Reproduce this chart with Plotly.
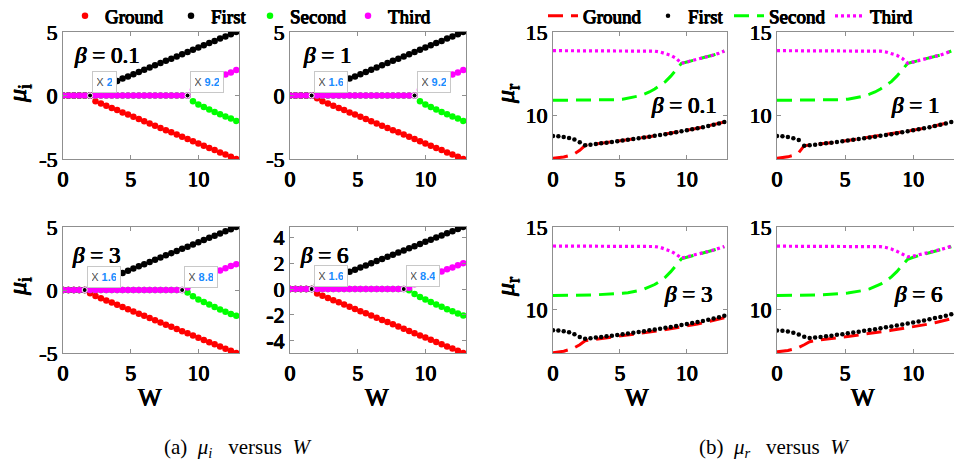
import plotly.graph_objects as go

# ---------------- data ----------------
W = [0.0, 0.4, 0.8, 1.2, 1.6, 2.0, 2.4, 2.8, 3.2, 3.6, 4.0, 4.4, 4.8, 5.2, 5.6, 6.0, 6.4,
     6.8, 7.2, 7.6, 8.0, 8.4, 8.8, 9.2, 9.6, 10.0, 10.4, 10.8, 11.2, 11.6, 12.0, 12.4, 12.8]

series_names = ["Ground", "First", "Second", "Third"]

# imaginary parts mu_i
mi_ground_b01 = [0, 0, 0, 0, 0, 0, -0.45, -0.63, -0.80, -0.98, -1.15, -1.33, -1.50, -1.68, -1.85, -2.03, -2.20,
                 -2.38, -2.55, -2.73, -2.90, -3.08, -3.25, -3.43, -3.60, -3.78, -3.95, -4.13, -4.30, -4.48, -4.65, -4.83, -5.00]
mi_first_b01 = [0, 0, 0, 0, 0, 0, 0.45, 0.63, 0.80, 0.98, 1.15, 1.33, 1.50, 1.68, 1.85, 2.03, 2.20,
                2.38, 2.55, 2.73, 2.90, 3.08, 3.25, 3.43, 3.60, 3.78, 3.95, 4.13, 4.30, 4.48, 4.65, 4.83, 5.00]
mi_second_b01 = [0, 0, 0, 0, 0, 0, 0, 0, 0, 0, 0, 0, 0, 0, 0, 0, 0,
                 0, 0, 0, 0, 0, 0, 0, -0.45, -0.70, -0.90, -1.10, -1.30, -1.48, -1.65, -1.82, -2.00]
mi_third_b01 = [0, 0, 0, 0, 0, 0, 0, 0, 0, 0, 0, 0, 0, 0, 0, 0, 0,
                0, 0, 0, 0, 0, 0, 0, 0.45, 0.70, 0.90, 1.10, 1.30, 1.48, 1.65, 1.82, 2.00]

mi_ground_b1 = [0, 0, 0, 0, 0, -0.22, -0.45, -0.63, -0.80, -0.98, -1.15, -1.33, -1.50, -1.68, -1.85, -2.03, -2.20,
                -2.38, -2.55, -2.73, -2.90, -3.08, -3.25, -3.43, -3.60, -3.78, -3.95, -4.13, -4.30, -4.48, -4.65, -4.83, -5.00]
mi_first_b1 = [0, 0, 0, 0, 0, 0.22, 0.45, 0.63, 0.80, 0.98, 1.15, 1.33, 1.50, 1.68, 1.85, 2.03, 2.20,
               2.38, 2.55, 2.73, 2.90, 3.08, 3.25, 3.43, 3.60, 3.78, 3.95, 4.13, 4.30, 4.48, 4.65, 4.83, 5.00]
mi_second_b1 = [0, 0, 0, 0, 0, 0, 0, 0, 0, 0, 0, 0, 0, 0, 0, 0, 0,
                0, 0, 0, 0, 0, 0, 0, -0.45, -0.70, -0.90, -1.10, -1.30, -1.48, -1.65, -1.82, -2.00]
mi_third_b1 = [0, 0, 0, 0, 0, 0, 0, 0, 0, 0, 0, 0, 0, 0, 0, 0, 0,
               0, 0, 0, 0, 0, 0, 0, 0.45, 0.70, 0.90, 1.10, 1.30, 1.48, 1.65, 1.82, 2.00]

mi_ground_b3 = [0, 0, 0, 0, 0, -0.25, -0.48, -0.66, -0.83, -1.00, -1.18, -1.35, -1.53, -1.70, -1.88, -2.05, -2.22,
                -2.40, -2.57, -2.75, -2.92, -3.10, -3.27, -3.44, -3.62, -3.79, -3.97, -4.14, -4.31, -4.49, -4.66, -4.83, -5.00]
mi_first_b3 = [0, 0, 0, 0, 0, 0.25, 0.48, 0.66, 0.83, 1.00, 1.18, 1.35, 1.53, 1.70, 1.88, 2.05, 2.22,
               2.40, 2.57, 2.75, 2.92, 3.10, 3.27, 3.44, 3.62, 3.79, 3.97, 4.14, 4.31, 4.49, 4.66, 4.83, 5.00]
mi_second_b3 = [0, 0, 0, 0, 0, 0, 0, 0, 0, 0, 0, 0, 0, 0, 0, 0, 0,
                0, 0, 0, 0, 0, 0, -0.20, -0.50, -0.75, -0.95, -1.15, -1.35, -1.55, -1.72, -1.90, -2.05]
mi_third_b3 = [0, 0, 0, 0, 0, 0, 0, 0, 0, 0, 0, 0, 0, 0, 0, 0, 0,
               0, 0, 0, 0, 0, 0, 0.20, 0.50, 0.75, 0.95, 1.15, 1.35, 1.55, 1.72, 1.90, 2.05]

mi_ground_b6 = [0, 0, 0, 0, 0, -0.35, -0.52, -0.69, -0.86, -1.03, -1.20, -1.37, -1.54, -1.71, -1.88, -2.05, -2.22,
                -2.39, -2.56, -2.73, -2.90, -3.08, -3.25, -3.42, -3.59, -3.76, -3.93, -4.10, -4.27, -4.44, -4.61, -4.78, -4.95]
mi_first_b6 = [0, 0, 0, 0, 0, 0.35, 0.51, 0.68, 0.84, 1.01, 1.17, 1.34, 1.50, 1.67, 1.83, 2.00, 2.16,
               2.33, 2.49, 2.66, 2.82, 2.99, 3.15, 3.32, 3.48, 3.65, 3.81, 3.98, 4.14, 4.31, 4.47, 4.64, 4.80]
mi_second_b6 = [0, 0, 0, 0, 0, 0, 0, 0, 0, 0, 0, 0, 0, 0, 0, 0, 0,
                0, 0, 0, 0, 0, -0.10, -0.38, -0.62, -0.81, -1.00, -1.19, -1.38, -1.57, -1.72, -1.89, -2.05]
mi_third_b6 = [0, 0, 0, 0, 0, 0, 0, 0, 0, 0, 0, 0, 0, 0, 0, 0, 0,
               0, 0, 0, 0, 0, 0.10, 0.37, 0.60, 0.79, 0.98, 1.16, 1.35, 1.53, 1.67, 1.84, 2.00]

# real parts mu_r
mr_ground_b01 = [7.42, 7.45, 7.50, 7.58, 7.70, 7.90, 8.20, 8.24, 8.28, 8.32, 8.36, 8.40, 8.44, 8.49, 8.53, 8.58, 8.62,
                 8.67, 8.72, 8.77, 8.82, 8.87, 8.92, 8.98, 9.04, 9.10, 9.16, 9.22, 9.29, 9.36, 9.43, 9.51, 9.60]
mr_first_b01 = [8.76, 8.74, 8.70, 8.64, 8.55, 8.38, 8.20, 8.24, 8.28, 8.32, 8.36, 8.40, 8.44, 8.49, 8.53, 8.58, 8.62,
                8.67, 8.72, 8.77, 8.82, 8.87, 8.92, 8.98, 9.04, 9.10, 9.16, 9.22, 9.29, 9.36, 9.43, 9.51, 9.60]
mr_second_b01 = [10.90, 10.90, 10.90, 10.90, 10.90, 10.90, 10.90, 10.90, 10.90, 10.90, 10.90, 10.92, 10.94, 10.97, 11.02, 11.08, 11.16,
                 11.27, 11.40, 11.58, 11.78, 12.02, 12.35, 12.75, 13.12, 13.20, 13.28, 13.36, 13.44, 13.53, 13.62, 13.73, 13.86]
mr_third_b01 = [13.88, 13.88, 13.88, 13.88, 13.88, 13.88, 13.88, 13.88, 13.88, 13.88, 13.88, 13.88, 13.88, 13.88, 13.88, 13.88, 13.88,
                13.88, 13.87, 13.85, 13.80, 13.72, 13.60, 13.42, 13.12, 13.20, 13.28, 13.36, 13.44, 13.53, 13.62, 13.73, 13.86]

mr_ground_b1 = [7.42, 7.45, 7.51, 7.60, 7.76, 8.18, 8.21, 8.24, 8.28, 8.32, 8.36, 8.40, 8.44, 8.49, 8.53, 8.58, 8.62,
                8.67, 8.72, 8.77, 8.82, 8.87, 8.92, 8.98, 9.04, 9.10, 9.16, 9.22, 9.29, 9.36, 9.43, 9.51, 9.60]
mr_first_b1 = [8.76, 8.74, 8.70, 8.63, 8.52, 8.18, 8.21, 8.24, 8.28, 8.32, 8.36, 8.40, 8.44, 8.49, 8.53, 8.58, 8.62,
               8.67, 8.72, 8.77, 8.82, 8.87, 8.92, 8.98, 9.04, 9.10, 9.16, 9.22, 9.29, 9.36, 9.43, 9.51, 9.60]
mr_second_b1 = [10.90, 10.90, 10.90, 10.90, 10.90, 10.90, 10.90, 10.90, 10.90, 10.90, 10.90, 10.92, 10.94, 10.97, 11.02, 11.08, 11.16,
                11.27, 11.40, 11.58, 11.78, 12.02, 12.35, 12.75, 13.12, 13.20, 13.28, 13.36, 13.44, 13.53, 13.62, 13.73, 13.86]
mr_third_b1 = [13.88, 13.88, 13.88, 13.88, 13.88, 13.88, 13.88, 13.88, 13.88, 13.88, 13.88, 13.88, 13.88, 13.88, 13.88, 13.88, 13.88,
               13.88, 13.87, 13.85, 13.80, 13.72, 13.60, 13.42, 13.12, 13.20, 13.28, 13.36, 13.44, 13.53, 13.62, 13.73, 13.86]

mr_ground_b3 = [7.40, 7.43, 7.49, 7.58, 7.70, 7.88, 8.12, 8.17, 8.21, 8.25, 8.29, 8.33, 8.37, 8.41, 8.46, 8.50, 8.55,
                8.59, 8.64, 8.69, 8.74, 8.79, 8.84, 8.89, 8.95, 9.01, 9.07, 9.13, 9.20, 9.27, 9.34, 9.42, 9.51]
mr_first_b3 = [8.76, 8.74, 8.70, 8.63, 8.52, 8.35, 8.24, 8.27, 8.31, 8.35, 8.39, 8.43, 8.47, 8.52, 8.56, 8.61, 8.65,
               8.70, 8.75, 8.80, 8.85, 8.90, 8.95, 9.01, 9.07, 9.13, 9.19, 9.25, 9.32, 9.39, 9.46, 9.54, 9.63]
mr_second_b3 = [10.85, 10.85, 10.85, 10.85, 10.86, 10.87, 10.88, 10.89, 10.90, 10.91, 10.92, 10.94, 10.96, 10.99, 11.03, 11.08, 11.15,
                11.24, 11.36, 11.52, 11.72, 11.97, 12.30, 12.70, 13.08, 13.17, 13.25, 13.33, 13.41, 13.50, 13.59, 13.69, 13.80]
mr_third_b3 = [13.85, 13.85, 13.85, 13.85, 13.85, 13.85, 13.85, 13.85, 13.85, 13.85, 13.85, 13.85, 13.85, 13.85, 13.85, 13.85, 13.85,
               13.85, 13.84, 13.82, 13.77, 13.68, 13.54, 13.35, 13.12, 13.20, 13.27, 13.35, 13.43, 13.52, 13.61, 13.71, 13.82]

mr_ground_b6 = [7.45, 7.48, 7.53, 7.61, 7.72, 7.88, 8.06, 8.13, 8.18, 8.22, 8.26, 8.30, 8.34, 8.38, 8.42, 8.46, 8.51,
                8.55, 8.60, 8.65, 8.70, 8.75, 8.80, 8.85, 8.90, 8.96, 9.02, 9.08, 9.14, 9.21, 9.28, 9.36, 9.45]
mr_first_b6 = [8.74, 8.72, 8.68, 8.61, 8.50, 8.36, 8.28, 8.31, 8.35, 8.39, 8.43, 8.48, 8.52, 8.57, 8.62, 8.67, 8.72,
               8.77, 8.82, 8.87, 8.93, 8.98, 9.04, 9.10, 9.16, 9.22, 9.28, 9.35, 9.42, 9.49, 9.56, 9.64, 9.72]
mr_second_b6 = [10.85, 10.85, 10.85, 10.85, 10.86, 10.87, 10.88, 10.89, 10.90, 10.91, 10.93, 10.95, 10.98, 11.01, 11.05, 11.10, 11.17,
                11.26, 11.38, 11.54, 11.74, 11.98, 12.30, 12.68, 13.05, 13.17, 13.26, 13.34, 13.42, 13.51, 13.60, 13.70, 13.81]
mr_third_b6 = [13.84, 13.84, 13.84, 13.84, 13.84, 13.84, 13.84, 13.84, 13.84, 13.84, 13.84, 13.84, 13.84, 13.84, 13.84, 13.84, 13.84,
               13.84, 13.83, 13.81, 13.76, 13.67, 13.53, 13.36, 13.20, 13.24, 13.31, 13.38, 13.46, 13.54, 13.63, 13.73, 13.84]

# data tips (W position of the marked point, value 0)
tips_b01 = [2.0, 9.2]
tips_b1 = [1.6, 9.2]
tips_b3 = [1.6, 8.8]
tips_b6 = [1.6, 8.4]

yticks_a = [-5, 0, 5]
yticks_a6 = [-4, -2, 0, 2, 4]
yticks_b = [10, 15]
xticks = [0, 5, 10]

# ---------------- layout helpers ----------------
FW, FH = 954, 463
def px(x):
    return x / FW
def py(y):
    return 1 - y / FH

SERIF = "Liberation Serif"
# faux-bold (the bold face of the serif font is not available)
BOLD = "0.45px 0 0 #000, -0.45px 0 0 #000, 0 0.35px 0 #000, 0 -0.2px 0 #000"
def bfont(size):
    return dict(family=SERIF, size=size, color="black", shadow=BOLD)

COL = {"Ground": "#ff0000", "First": "#000000", "Second": "#00ff00", "Third": "#ff00ff"}

ROW1 = (32, 159)
ROW2 = (227, 353)
panels = {
    1: ((63, 239), ROW1, [0, 13], [-5, 5], yticks_a),
    2: ((290, 466), ROW1, [0, 13], [-5, 5], yticks_a),
    3: ((63, 239), ROW2, [0, 13], [-5, 5], yticks_a),
    4: ((290, 466), ROW2, [0, 13], [-4.95, 4.8], yticks_a6),
    5: ((553, 727), ROW1, [0, 13], [7.38, 15], yticks_b),
    6: ((777, 954), ROW1, [0, 13], [7.38, 15], yticks_b),
    7: ((553, 727), ROW2, [0, 13], [7.38, 15], yticks_b),
    8: ((777, 954), ROW2, [0, 13], [7.38, 15], yticks_b),
}

# one legend per entry so each entry sits where the reference puts it
legend_left_x = {"Ground": 65, "First": 171, "Second": 250, "Third": 348}
legend_right_x = {"Ground": 543, "First": 648, "Second": 729, "Third": 830}
legend_id_left = {"Ground": "legend", "First": "legend2", "Second": "legend3", "Third": "legend4"}
legend_id_right = {"Ground": "legend5", "First": "legend6", "Second": "legend7", "Third": "legend8"}

fig = go.Figure()

mi_sets = {
    1: (mi_ground_b01, mi_first_b01, mi_second_b01, mi_third_b01, tips_b01),
    2: (mi_ground_b1, mi_first_b1, mi_second_b1, mi_third_b1, tips_b1),
    3: (mi_ground_b3, mi_first_b3, mi_second_b3, mi_third_b3, tips_b3),
    4: (mi_ground_b6, mi_first_b6, mi_second_b6, mi_third_b6, tips_b6),
}
mr_sets = {
    5: (mr_ground_b01, mr_first_b01, mr_second_b01, mr_third_b01),
    6: (mr_ground_b1, mr_first_b1, mr_second_b1, mr_third_b1),
    7: (mr_ground_b3, mr_first_b3, mr_second_b3, mr_third_b3),
    8: (mr_ground_b6, mr_first_b6, mr_second_b6, mr_third_b6),
}

def axn(i):
    return ("x" if i == 1 else f"x{i}", "y" if i == 1 else f"y{i}")

annotations = []
for i, (g, f, s, t, tips) in mi_sets.items():
    xa, ya = axn(i)
    for name, vals in zip(series_names, (g, f, s, t)):
        fig.add_trace(go.Scatter(
            x=W, y=vals, mode="markers", name=name, legend=legend_id_left[name],
            showlegend=(i == 1), xaxis=xa, yaxis=ya, hoverinfo="skip",
            marker=dict(color=COL[name], size=6.5, line=dict(width=0))))
    fig.add_trace(go.Scatter(
        x=tips, y=[0] * len(tips), mode="markers", showlegend=False,
        xaxis=xa, yaxis=ya, hoverinfo="skip",
        marker=dict(color="#000000", size=5, line=dict(color="white", width=1))))
    for tw in tips:
        label = f"{tw:g}"
        annotations.append(dict(
            x=tw, y=0, xref=xa, yref=ya, xanchor="left", yanchor="bottom",
            xshift=2, yshift=2, showarrow=False,
            width=(15 if len(label) == 1 else 24), height=12,
            text=f"<span style='color:#4d4d4d'>X</span> <span style='color:#1a8cff'><b>{label}</b></span>",
            font=dict(family="Liberation Sans", size=11),
            bgcolor="white", bordercolor="#c8c8c8", borderwidth=1, borderpad=4))

styles = {
    "Ground": dict(mode="lines", line=dict(color=COL["Ground"], width=3, dash="15px,8px")),
    "First": dict(mode="markers", marker=dict(color=COL["First"], size=4.5)),
    "Second": dict(mode="lines", line=dict(color=COL["Second"], width=3, dash="15px,8px")),
    "Third": dict(mode="lines", line=dict(color=COL["Third"], width=3.2, dash="3px,3px")),
}
for i, (g, f, s, t) in mr_sets.items():
    xa, ya = axn(i)
    for name, vals in zip(series_names, (g, f, s, t)):
        fig.add_trace(go.Scatter(
            x=W, y=vals, name=name, legend=legend_id_right[name], showlegend=(i == 5),
            xaxis=xa, yaxis=ya, hoverinfo="skip", **styles[name]))

layout = {}
for i, (xd, yd, xr, yr, yt) in panels.items():
    xk = "xaxis" if i == 1 else f"xaxis{i}"
    yk = "yaxis" if i == 1 else f"yaxis{i}"
    xa, ya = axn(i)
    common = dict(showgrid=False, zeroline=False, showline=True, linecolor="#8f8f8f",
                  linewidth=1, ticks="inside", ticklen=4, tickcolor="#8f8f8f",
                  tickfont=bfont(22), automargin=False)
    layout[xk] = dict(domain=[px(xd[0]), px(xd[1])], range=xr, anchor=ya,
                      tickvals=xticks, ticktext=[str(v) for v in xticks],
                      mirror="ticks", **common)
    layout[yk] = dict(domain=[py(yd[1]), py(yd[0])], range=yr, anchor=xa,
                      tickvals=yt, ticktext=[str(v) for v in yt],
                      mirror=("ticks" if xd[1] < 954 else False), **common)

# beta labels
beta_pos = {1: (107, 55), 2: (327, 55), 3: (96, 255), 4: (324, 255),
            5: (684, 105), 6: (915, 105), 7: (688, 294), 8: (918, 294)}
beta_of = {1: "0.1", 2: "1", 3: "3", 4: "6", 5: "0.1", 6: "1", 7: "3", 8: "6"}
for i, (bx, by) in beta_pos.items():
    annotations.append(dict(x=px(bx), y=py(by), xref="paper", yref="paper",
                            showarrow=False, xanchor="center", yanchor="middle",
                            text=f"<i>β</i> = {beta_of[i]}", font=bfont(23)))

# axis titles
for (tx, ty, txt) in [(19, 94, "<i>μ</i><sub>i</sub>"), (19, 287, "<i>μ</i><sub>i</sub>"),
                      (507, 94, "<i>μ</i><sub>r</sub>"), (507, 287, "<i>μ</i><sub>r</sub>")]:
    annotations.append(dict(x=px(tx), y=py(ty), xref="paper", yref="paper",
                            showarrow=False, textangle=-90, xanchor="center", yanchor="middle",
                            text=txt, font=bfont(26)))
for tx in (150, 377, 637, 863):
    annotations.append(dict(x=px(tx), y=py(397), xref="paper", yref="paper",
                            showarrow=False, xanchor="center", yanchor="middle",
                            text="W", font=bfont(25)))

# captions
for (tx, txt) in [(238, "(a)&nbsp;&nbsp;<i>μ<sub>i</sub></i>&nbsp;&nbsp;&nbsp;versus&nbsp;&nbsp;<i>W</i>"),
                  (774, "(b)&nbsp;&nbsp;<i>μ<sub>r</sub></i>&nbsp;&nbsp;&nbsp;versus&nbsp;&nbsp;<i>W</i>")]:
    annotations.append(dict(x=px(tx), y=py(448), xref="paper", yref="paper",
                            showarrow=False, xanchor="center", yanchor="middle",
                            text=txt, font=dict(family=SERIF, size=21, color="black")))

legend_common = dict(orientation="h", xanchor="left", yanchor="middle",
                     font=bfont(19),
                     bgcolor="rgba(0,0,0,0)", borderwidth=0, itemwidth=30,
                     itemclick=False, itemdoubleclick=False)
legends = {}
for name in series_names:
    legends[legend_id_left[name]] = dict(x=px(legend_left_x[name]), y=py(16), **legend_common)
    legends[legend_id_right[name]] = dict(x=px(legend_right_x[name]), y=py(16), **legend_common)

fig.update_layout(
    width=FW, height=FH,
    margin=dict(l=0, r=0, t=0, b=0, pad=0, autoexpand=False),
    paper_bgcolor="white", plot_bgcolor="white", showlegend=True,
    annotations=annotations,
    **legends,
    **layout,
)

fig.write_html("out.html")
